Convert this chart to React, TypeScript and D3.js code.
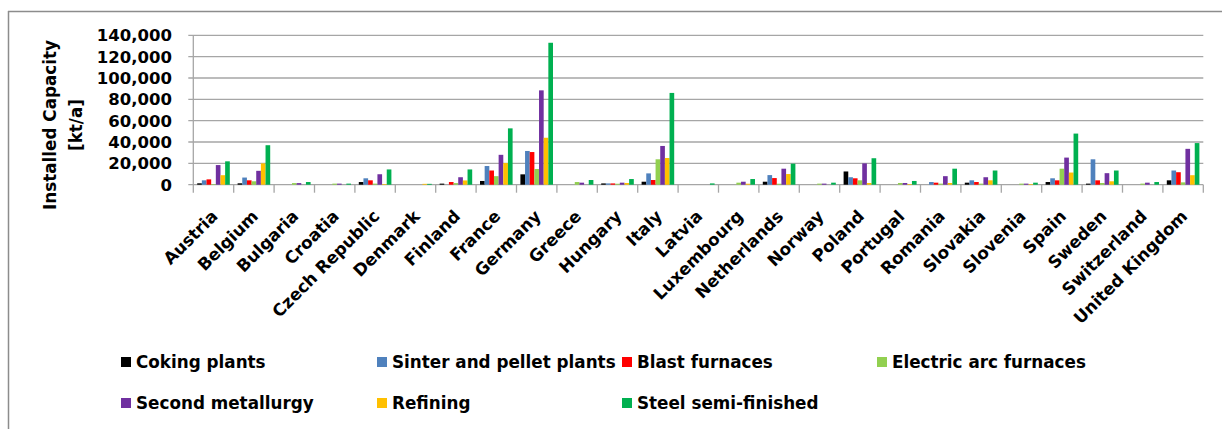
import React from "react";
import * as d3 from "d3";

const countries = ["Austria","Belgium","Bulgaria","Croatia","Czech Republic","Denmark","Finland","France","Germany","Greece","Hungary","Italy","Latvia","Luxembourg","Netherlands","Norway","Poland","Portugal","Romania","Slovakia","Slovenia","Spain","Sweden","Switzerland","United Kingdom"];

const seriesNames = ["Coking plants","Sinter and pellet plants","Blast furnaces","Electric arc furnaces","Second metallurgy","Refining","Steel semi-finished"];
const seriesColors = ["#000000","#4F81BD","#FF0000","#92D050","#7030A0","#FFC000","#00B050"];

const coking = [1300,1300,0,0,2500,0,1000,3500,9700,0,1200,2800,0,0,2800,0,12400,0,0,1900,0,2500,1000,0,4100];
const sinter = [4100,6700,0,0,6000,0,0,17500,31600,0,1200,10600,0,0,9000,0,7000,0,2500,4100,0,6000,23800,0,13300];
const blast = [5000,4100,0,0,4100,0,2500,13300,30600,0,1200,4400,0,0,6200,0,6000,0,1900,2500,0,4100,4100,0,11700];
const eaf = [600,3200,1500,1000,1000,0,1500,8000,14700,2500,900,23800,0,1900,900,1000,4100,1600,1000,1000,1000,15000,1600,1000,2200];
const secondMet = [18400,13000,1500,1000,9800,0,7000,28000,88400,1900,1900,36300,0,2800,15000,1000,20000,1600,8000,7000,1000,25400,10800,1900,33600];
const refining = [8900,20000,0,0,600,800,4000,20300,44000,0,1600,25000,0,900,10000,0,1600,600,1600,4100,600,11400,3200,0,8900];
const steel = [21900,37000,2500,1000,14300,800,14300,52800,133000,4400,5300,86000,1200,5300,19700,1900,24800,3500,15000,13300,1900,47900,13300,2500,39000];

const yTicks = [0,20000,40000,60000,80000,100000,120000,140000];

const allSeries = [coking, sinter, blast, eaf, secondMet, refining, steel];

const FONT = "'DejaVu Sans', sans-serif";

export default function App() {
  const left = 193.3, right = 1203.3, top = 35.3, bottom = 184.7;
  const x = d3.scaleBand<string>().domain(countries).range([left, right]).padding(0);
  const bw = x.bandwidth();
  const inner = d3.scaleBand<number>().domain(d3.range(7)).range([3.9, bw - 3.9]).padding(0);
  const y = d3.scaleLinear().domain([0, 140000]).range([bottom, top]);
  const fmt = d3.format(",");

  const legendPos = [
    [121, 362], [377, 362], [622, 362], [877, 362],
    [121, 403], [377, 403], [622, 403],
  ];

  return (
    <svg width={1222} height={429} style={{ position: "absolute", left: 0, top: 0 }} fontFamily={FONT}>
      <rect x={0} y={0} width={1222} height={429} fill="#fff" />
      {/* chart border */}
      <line x1={8} y1={11.5} x2={1222} y2={11.5} stroke="#8c8c8c" strokeWidth={1.5} />
      <line x1={8.5} y1={11} x2={8.5} y2={429} stroke="#8c8c8c" strokeWidth={1.5} />

      {/* gridlines */}
      {yTicks.map((t) => (
        <line key={"g" + t} x1={left - 5} x2={right} y1={y(t)} y2={y(t)} stroke="#a6a6a6" strokeWidth={1.3} />
      ))}
      {/* y axis line */}
      <line x1={left} x2={left} y1={top} y2={bottom} stroke="#a6a6a6" strokeWidth={1.3} />
      {/* x category ticks */}
      {countries.map((c) => (
        <line key={"t" + c} x1={x(c)!} x2={x(c)!} y1={bottom} y2={bottom + 8} stroke="#a6a6a6" strokeWidth={1.3} />
      ))}
      <line x1={right} x2={right} y1={bottom} y2={bottom + 8} stroke="#a6a6a6" strokeWidth={1.3} />

      {/* y tick labels */}
      {yTicks.map((t) => (
        <text key={"yl" + t} x={172} y={y(t)} dy="0.36em" textAnchor="end" fontSize={16.5} fontWeight="bold" fill="#000">
          {fmt(t)}
        </text>
      ))}

      {/* y title */}
      <g transform="translate(56,125) rotate(-90)">
        <text x={0} y={0} textAnchor="middle" fontSize={16.8} fontWeight="bold">Installed Capacity</text>
        <text x={0} y={26} textAnchor="middle" fontSize={16.8} fontWeight="bold">[kt/a]</text>
      </g>

      {/* bars */}
      {allSeries.map((s, si) => (
        <g key={"s" + si} fill={seriesColors[si]}>
          {s.map((v, ci) => {
            if (v <= 0) return null;
            const bx = x(countries[ci])! + inner(si)!;
            return <rect key={ci} x={bx} y={y(v)} width={inner.bandwidth()} height={bottom - y(v)} />;
          })}
        </g>
      ))}

      {/* x labels */}
      {countries.map((c) => {
        const cx = x(c)! + bw / 2 - 3;
        const cy = 209;
        return (
          <text key={"xl" + c} transform={`translate(${cx},${cy}) rotate(-45)`} textAnchor="end" dy="0.7em" fontSize={16.8} fontWeight="bold">
            {c}
          </text>
        );
      })}

      {/* legend */}
      {seriesNames.map((n, i) => (
        <g key={"lg" + i}>
          <rect x={legendPos[i][0]} y={legendPos[i][1] - 5} width={10} height={10} fill={seriesColors[i]} />
          <text x={legendPos[i][0] + 15} y={legendPos[i][1]} dy="0.36em" fontSize={16.8} fontWeight="bold">{n}</text>
        </g>
      ))}
    </svg>
  );
}
